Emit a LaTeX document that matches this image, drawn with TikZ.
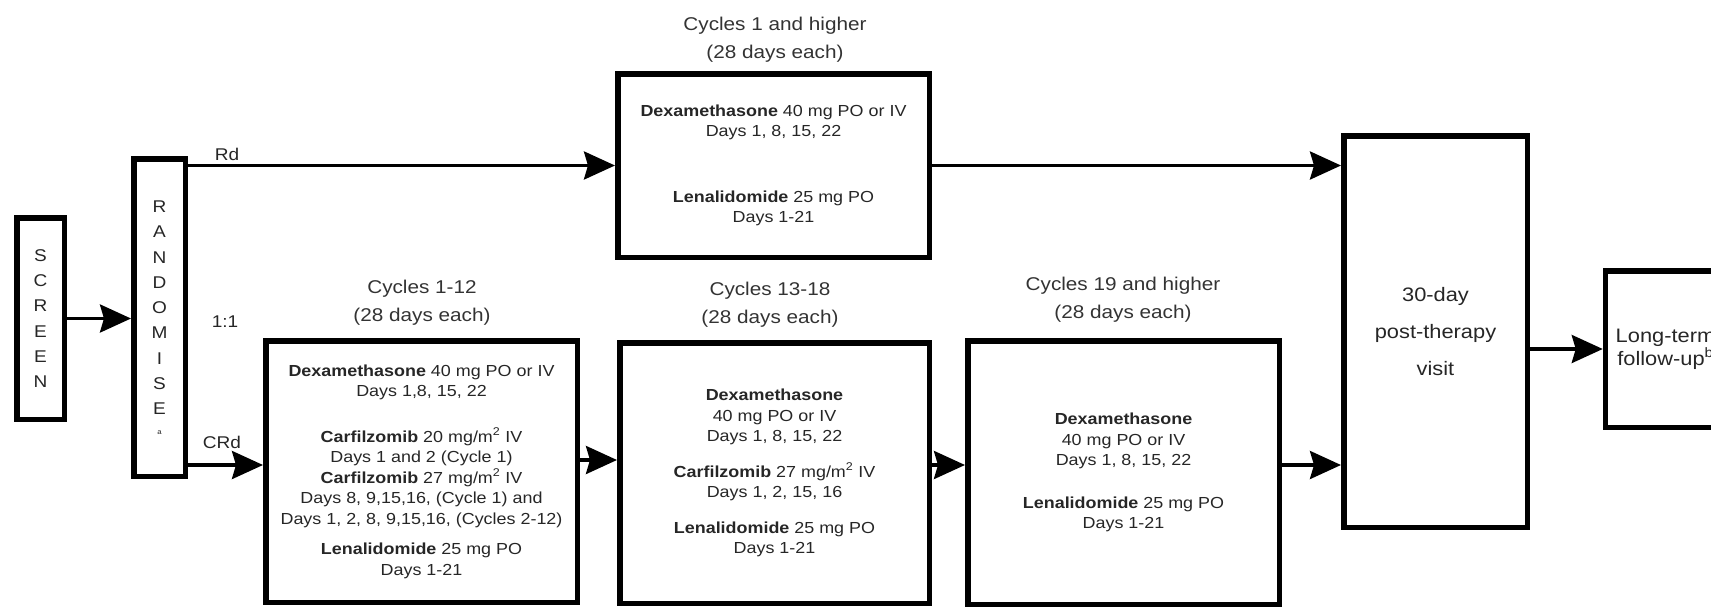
\documentclass[tikz,border=0pt]{standalone}
\usepackage{fontspec}
\setmainfont[FakeStretch=1.12]{Liberation Sans}
\usetikzlibrary{arrows.meta,positioning}
\tikzset{
  box/.style={draw, line width=5.5pt, align=center, inner sep=0pt, text=black!85,
    font=\fontsize{16}{20.5}\selectfont},
  letters/.style={box, font=\fontsize{17}{25.3}\selectfont},
  visitbox/.style={box, font=\fontsize{19.5}{37}\selectfont},
  ttl/.style={align=center, inner sep=0pt, text=black!80, font=\fontsize{18.5}{28}\selectfont},
  lbl/.style={inner sep=0pt, text=black!85, font=\fontsize{17}{17}\selectfont},
  arr/.style={line width=3.5pt, -{Stealth[length=31pt,width=28pt,inset=4pt]}}
}

\begin{document}
\begin{tikzpicture}[x=1pt,y=-1pt]
		%%%%% START %%%%%
		\useasboundingbox (0,0) rectangle (1711,608);
		\clip (0,0) rectangle (1711,608);
		
		\node[letters, minimum width=47.5, minimum height=201.5] (screen) at (40.5,318.5) {S\\C\\R\\E\\E\\N};
		\node[letters, minimum width=51.5, minimum height=317.5] (rand) at (159.5,317.5)
			{R\\A\\N\\D\\O\\M\\I\\S\\E\\[-6pt]{\fontsize{7}{7}\selectfont a}};
		
		\node[lbl] (rd) at (227,154) {Rd};
		\node[lbl] (ratio) at (225,322) {1:1};
		\node[lbl] (crd) at (222,442) {CRd};
		
		% Rd arm
		\node[ttl] (toptl) at (775,40) {Cycles 1 and higher\\(28 days each)};
		\node[box, minimum width=311.5, minimum height=183.5] (top) at (773.5,165.5)
			{\textbf{Dexamethasone} 40 mg PO or IV\\Days 1, 8, 15, 22\\[45pt]
			 \textbf{Lenalidomide} 25 mg PO\\Days 1-21};
		
		% CRd arm
		\node[ttl] (c1tl) at (422,303) {Cycles 1-12\\(28 days each)};
		\node[box, minimum width=311.5, minimum height=261.5] (c1) at (421.5,471.5)
			{\textbf{Dexamethasone} 40 mg PO or IV\\Days 1,8, 15, 22\\[25pt]
			 \textbf{Carfilzomib} 20 mg/m\textsuperscript{2} IV\\Days 1 and 2 (Cycle 1)\\
			 \textbf{Carfilzomib} 27 mg/m\textsuperscript{2} IV\\Days 8, 9,15,16, (Cycle 1) and\\
			 Days 1, 2, 8, 9,15,16, (Cycles 2-12)\\[10pt]
			 \textbf{Lenalidomide} 25 mg PO\\Days 1-21};
		
		\node[ttl] (c2tl) at (770,305) {Cycles 13-18\\(28 days each)};
		\node[box, minimum width=309.5, minimum height=260.5] (c2) at (774.5,473)
			{\textbf{Dexamethasone}\\40 mg PO or IV\\Days 1, 8, 15, 22\\[15pt]
			 \textbf{Carfilzomib} 27 mg/m\textsuperscript{2} IV\\Days 1, 2, 15, 16\\[15pt]
			 \textbf{Lenalidomide} 25 mg PO\\Days 1-21};
		
		\node[ttl] (c3tl) at (1123,300) {Cycles 19 and higher\\(28 days each)};
		\node[box, minimum width=311.5, minimum height=263.5] (c3) at (1123.5,472.5)
			{\textbf{Dexamethasone}\\40 mg PO or IV\\Days 1, 8, 15, 22\\[22pt]
			 \textbf{Lenalidomide} 25 mg PO\\Days 1-21};
		
		\node[visitbox, minimum width=183.5, minimum height=391.5] (visit) at (1435.5,331.5)
			{30-day\\post-therapy\\visit};
		\node[box, font=\fontsize{19.5}{23}\selectfont, minimum width=120, minimum height=156.5] (ltf) at (1665.5,349)
			{Long-term\\follow-up\textsuperscript{b}};
		
		\coordinate (c1in) at ([yshift=6.5pt]c1.west);
		\coordinate (c1out) at ([yshift=11.5pt]c1.east);
		\coordinate (c2out) at ([yshift=8pt]c2.east);
		\coordinate (c3out) at ([yshift=7.5pt]c3.east);
		
		\draw[arr] (screen.east) -- (screen.east -| rand.west);
		\draw[arr] (rand.east |- top.west) -- (top.west);
		\draw[arr] (rand.east |- c1in) -- (c1in);
		\draw[arr] (c1out) -- (c1out -| c2.west);
		\draw[arr] (c2out) -- (c2out -| c3.west);
		\draw[arr] (top.east) -- (top.east -| visit.west);
		\draw[arr] (c3out) -- (c3out -| visit.west);
		\draw[arr] (visit.east |- ltf.west) -- (ltf.west);
		
		%%%%% END %%%%%
\end{tikzpicture}
\end{document}
